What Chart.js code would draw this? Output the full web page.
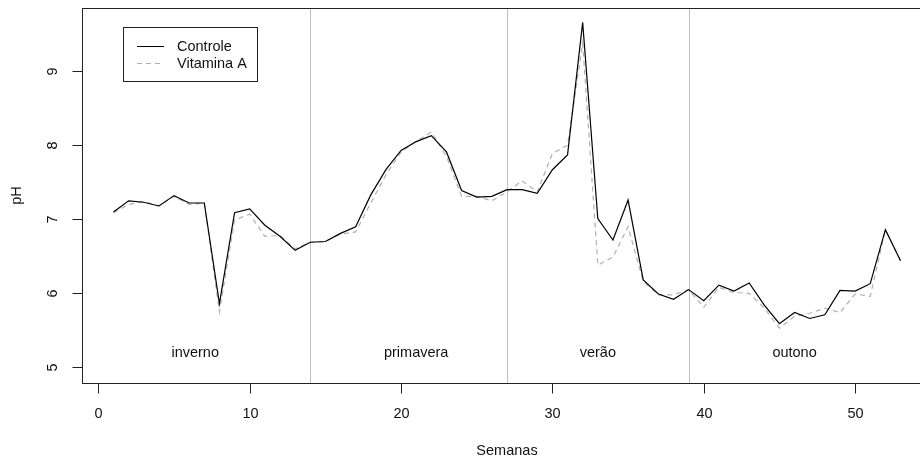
<!DOCTYPE html>
<html>
<head>
<meta charset="utf-8">
<title>pH semanal</title>
<script src="https://cdn.jsdelivr.net/npm/chart.js@4"></script>
<style>
  html, body { margin: 0; padding: 0; background: #fff; overflow: hidden; }
  #wrap { width: 935px; height: 462px; }
</style>
</head>
<body>
<div id="wrap"><canvas id="phChart" width="935" height="462"></canvas></div>
<script>
/* weekly pH, two groups */
const semanas = Array.from({length: 53}, (_, i) => i + 1);
const controle = [
  7.10, 7.25, 7.23, 7.18, 7.32, 7.22, 7.22, 5.86, 7.09, 7.14,
  6.92, 6.77, 6.58, 6.69, 6.70, 6.81, 6.90, 7.33, 7.67, 7.93,
  8.05, 8.13, 7.91, 7.39, 7.30, 7.31, 7.40, 7.40, 7.35, 7.67,
  7.87, 9.66, 7.01, 6.72, 7.26, 6.18, 5.99, 5.92, 6.05, 5.90,
  6.11, 6.03, 6.14, 5.84, 5.59, 5.74, 5.66, 5.71, 6.04, 6.03,
  6.13, 6.86, 6.44
];
const vitaminaA = [
  7.09, 7.20, 7.24, 7.18, 7.31, 7.20, 7.22, 5.75, 6.99, 7.07,
  6.77, 6.78, 6.60, 6.69, 6.70, 6.80, 6.83, 7.22, 7.60, 7.91,
  8.05, 8.18, 7.85, 7.31, 7.31, 7.25, 7.37, 7.52, 7.37, 7.89,
  8.00, 9.38, 6.38, 6.49, 6.90, 6.16, 5.98, 5.98, 6.05, 5.81,
  6.08, 6.01, 6.00, 5.80, 5.53, 5.69, 5.73, 5.80, 5.74, 5.99,
  5.96, 6.86, 6.44
];

/* axes, season breaks and labels */
const xTicks = [0, 10, 20, 30, 40, 50];
const yTicks = [5, 6, 7, 8, 9];
const quebras = [14, 27, 39];
const estacoes = ['inverno', 'primavera', 'verão', 'outono'];
const estacoesX = [6.4, 21, 33, 46];
const estacoesY = 5.2;

const FONT = '14.5px "Liberation Sans", Arial, sans-serif';

const pts = ys => semanas.map((w, i) => ({x: w, y: ys[i]}));

/* R-style frame, axes, season marks and legend */
const basePlot = {
  id: 'basePlot',
  beforeDatasetsDraw(chart){
    const {ctx, chartArea: a, scales: {x, y}} = chart;
    ctx.save();
    ctx.strokeStyle = '#bebebe';
    ctx.lineWidth = 1;
    quebras.forEach(q => {
      const px = Math.round(x.getPixelForValue(q)) + 0.5;
      ctx.beginPath(); ctx.moveTo(px, a.top); ctx.lineTo(px, a.bottom); ctx.stroke();
    });
    ctx.fillStyle = '#111';
    ctx.font = FONT;
    ctx.textAlign = 'center';
    ctx.textBaseline = 'middle';
    estacoes.forEach((s, i) => {
      ctx.fillText(s, x.getPixelForValue(estacoesX[i]), y.getPixelForValue(estacoesY));
    });
    ctx.restore();
  },
  afterDatasetsDraw(chart){
    const {ctx, chartArea: a, scales: {x, y}} = chart;
    ctx.save();
    ctx.strokeStyle = '#222';
    ctx.lineWidth = 1;
    const L = Math.round(a.left) + 0.5, T = Math.round(a.top) + 0.5;
    const R = Math.round(a.right) + 0.5, B = Math.round(a.bottom) + 0.5;
    ctx.strokeRect(L, T, R - L, B - T);

    ctx.fillStyle = '#111';
    ctx.font = FONT;
    ctx.textAlign = 'center';
    ctx.textBaseline = 'middle';
    // x axis
    xTicks.forEach(t => {
      const px = Math.round(x.getPixelForValue(t)) + 0.5;
      ctx.beginPath(); ctx.moveTo(px, B); ctx.lineTo(px, B + 10); ctx.stroke();
      ctx.fillText(String(t), px, 413.5);
    });
    ctx.fillText('Semanas', (a.left + a.right) / 2, 450.5);
    // y axis, labels turned like R's default
    yTicks.forEach(t => {
      const py = Math.round(y.getPixelForValue(t)) + 0.5;
      ctx.beginPath(); ctx.moveTo(L, py); ctx.lineTo(L - 10, py); ctx.stroke();
      ctx.save();
      ctx.translate(53, py);
      ctx.rotate(-Math.PI / 2);
      ctx.fillText(String(t), 0, 0);
      ctx.restore();
    });
    ctx.save();
    ctx.translate(16.5, (a.top + a.bottom) / 2);
    ctx.rotate(-Math.PI / 2);
    ctx.fillText('pH', 0, 0);
    ctx.restore();

    // legend
    ctx.fillStyle = '#fff';
    ctx.fillRect(123.5, 27.5, 134, 54);
    ctx.strokeRect(123.5, 27.5, 134, 54);
    chart.data.datasets.forEach((ds, i) => {
      const ly = 46.5 + i * 17;
      ctx.strokeStyle = ds.borderColor;
      ctx.setLineDash(ds.borderDash || []);
      ctx.beginPath(); ctx.moveTo(137, ly); ctx.lineTo(164, ly); ctx.stroke();
      ctx.setLineDash([]);
      ctx.fillStyle = '#111';
      ctx.textAlign = 'left';
      ctx.fillText(ds.label, 177, ly);
    });
    ctx.restore();
  }
};

new Chart(document.getElementById('phChart'), {
  type: 'line',
  data: {
    datasets: [
      { label: 'Controle', data: pts(controle), borderColor: '#000', borderWidth: 1.2,
        pointRadius: 0, tension: 0 },
      { label: 'Vitamina A', data: pts(vitaminaA), borderColor: '#b0b0b0', borderWidth: 1.2,
        borderDash: [5, 4], pointRadius: 0, tension: 0 }
    ]
  },
  options: {
    responsive: false,
    animation: false,
    devicePixelRatio: 1,
    layout: { padding: { left: 82, top: 8, right: 3, bottom: 79 } },
    plugins: { legend: { display: false }, tooltip: { enabled: false } },
    scales: {
      x: { type: 'linear', min: -1.08, max: 55.08, display: false },
      y: { type: 'linear', min: 4.788, max: 9.855, display: false }
    }
  },
  plugins: [basePlot]
});
</script>
</body>
</html>
